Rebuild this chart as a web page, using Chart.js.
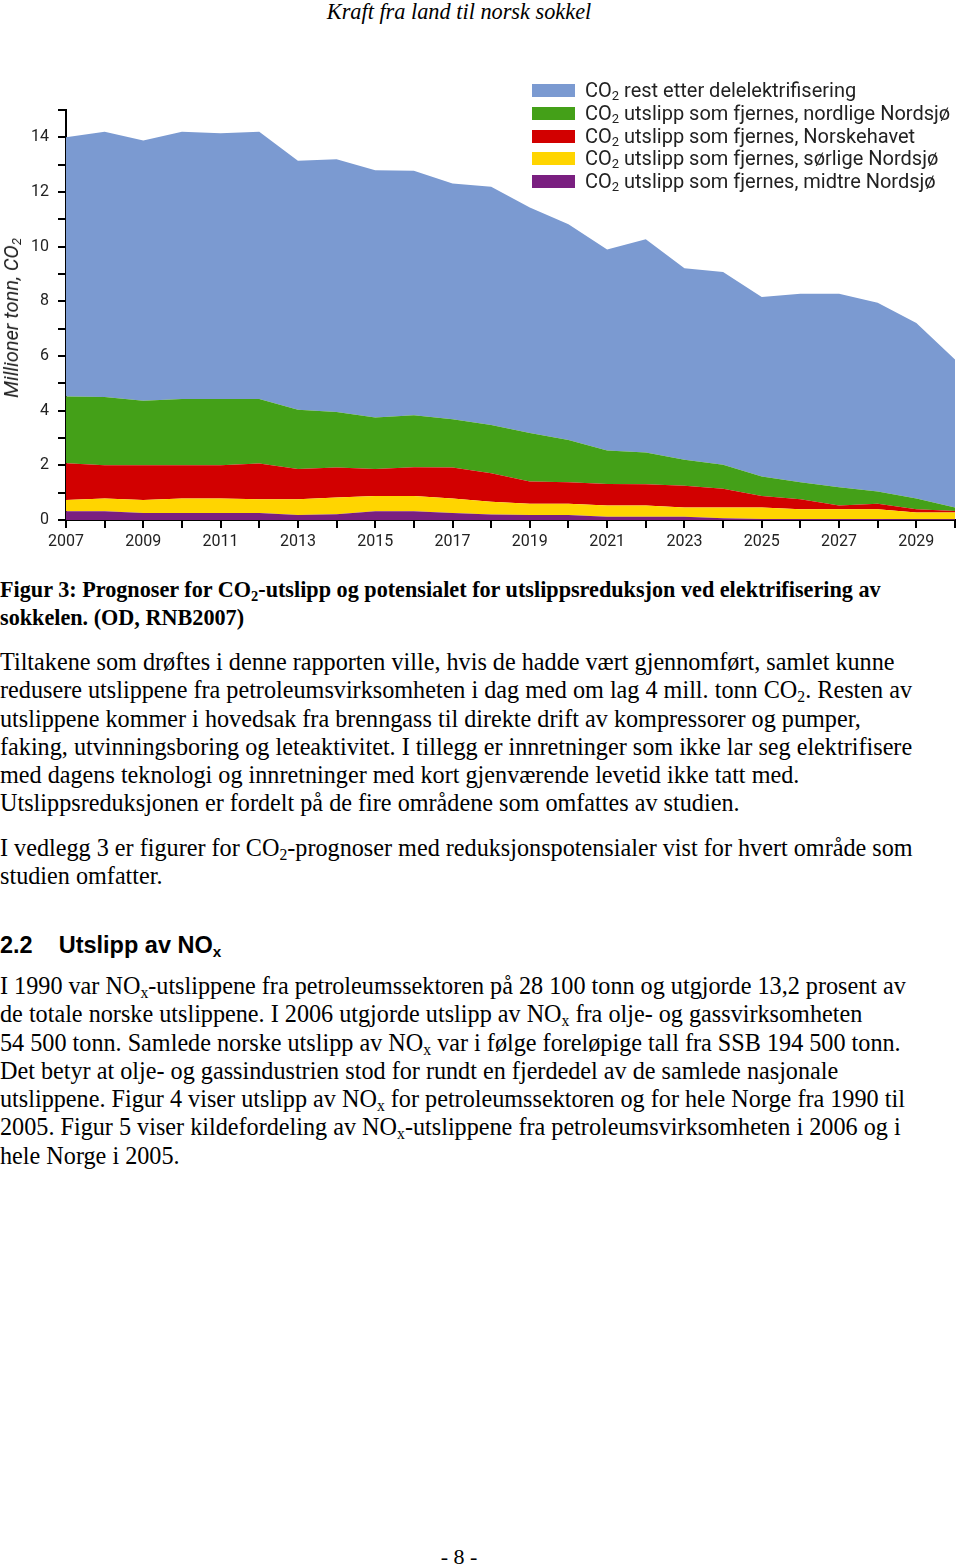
<!DOCTYPE html>
<html>
<head>
<meta charset="utf-8">
<script src="https://cdn.jsdelivr.net/npm/chart.js@4/dist/chart.umd.min.js"></script>
<style>
  html, body { margin: 0; padding: 0; background: #fff; }
  body { width: 960px; height: 1566px; position: relative; overflow: hidden; }
  .abs { position: absolute; }
  .serif { font-family: "Liberation Serif", "Times New Roman", serif; color: #000; white-space: nowrap; }
  .header { left: 0; width: 918px; top: 0; text-align: center; font-style: italic; font-size: 22.3px; line-height: 24px; }
  .caption { left: 0; top: 576px; font-weight: bold; font-size: 22.2px; line-height: 28.3px; }
  .body { font-size: 24.2px; line-height: 28.3px; left: 0; }
  sub { font-size: 65%; line-height: 0; vertical-align: -0.25em; }
  .heading { left: 0; top: 931px; font-family: "Liberation Sans", Arial, sans-serif; font-weight: bold; font-size: 23.5px; line-height: 28px; white-space: nowrap; }
  #chartBox { left: 0; top: 60px; width: 960px; height: 500px; }
  .legend { font-family: Roboto, "Open Sans", sans-serif; font-size: 20px; color: #222; }
  .legrow { position: absolute; left: 532px; height: 22px; }
  .sw { position: absolute; left: 0; top: 5px; width: 43px; height: 13px; }
  .lt { position: absolute; left: 53px; top: 0; line-height: 22px; white-space: nowrap; }
  .ytitle { left: 11px; top: 318px; transform: translate(-50%, -50%) rotate(-90deg); font-family: Roboto, "Open Sans", sans-serif; font-style: italic; font-size: 20px; color: #222; white-space: nowrap; }
</style>
</head>
<body>
<div class="abs serif header">Kraft fra land til norsk sokkel</div>

<div class="abs" id="chartBox"><canvas id="c"></canvas></div>
<div class="abs ytitle">Millioner tonn, CO<sub>2</sub></div>
<div class="abs legend" id="legend" style="left:0;top:0;width:960px;height:0;"></div>

<div class="abs serif caption">Figur 3: Prognoser for CO<sub>2</sub>-utslipp og potensialet for utslippsreduksjon ved elektrifisering av<br>sokkelen. (OD, RNB2007)</div>

<div class="abs serif body" style="top:648px;">Tiltakene som drøftes i denne rapporten ville, hvis de hadde vært gjennomført, samlet kunne<br>redusere utslippene fra petroleumsvirksomheten i dag med om lag 4 mill. tonn CO<sub>2</sub>. Resten av<br>utslippene kommer i hovedsak fra brenngass til direkte drift av kompressorer og pumper,<br>faking, utvinningsboring og leteaktivitet. I tillegg er innretninger som ikke lar seg elektrifisere<br>med dagens teknologi og innretninger med kort gjenværende levetid ikke tatt med.<br>Utslippsreduksjonen er fordelt på de fire områdene som omfattes av studien.</div>

<div class="abs serif body" style="top:834px;">I vedlegg 3 er figurer for CO<sub>2</sub>-prognoser med reduksjonspotensialer vist for hvert område som<br>studien omfatter.</div>

<div class="abs heading">2.2<span style="display:inline-block;width:26px"></span>Utslipp av NO<sub>x</sub></div>

<div class="abs serif body" style="top:972px;">I 1990 var NO<sub>x</sub>-utslippene fra petroleumssektoren på 28 100 tonn og utgjorde 13,2 prosent av<br>de totale norske utslippene. I 2006 utgjorde utslipp av NO<sub>x</sub> fra olje- og gassvirksomheten<br>54 500 tonn. Samlede norske utslipp av NO<sub>x</sub> var i følge foreløpige tall fra SSB 194 500 tonn.<br>Det betyr at olje- og gassindustrien stod for rundt en fjerdedel av de samlede nasjonale<br>utslippene. Figur 4 viser utslipp av NO<sub>x</sub> for petroleumssektoren og for hele Norge fra 1990 til<br>2005. Figur 5 viser kildefordeling av NO<sub>x</sub>-utslippene fra petroleumsvirksomheten i 2006 og i<br>hele Norge i 2005.</div>

<div class="abs serif" style="left:0;width:918px;top:1544px;text-align:center;font-size:22px;line-height:26px;">- 8 -</div>

<script>
// ---- Data ----
const years = ['2007','2008','2009','2010','2011','2012','2013','2014','2015','2016','2017','2018','2019','2020','2021','2022','2023','2024','2025','2026','2027','2028','2029','2030'];
const midtreNordsjo = [0.32,0.32,0.26,0.26,0.26,0.26,0.18,0.21,0.32,0.32,0.26,0.20,0.18,0.18,0.12,0.12,0.12,0.06,0.04,0.04,0.04,0.04,0.03,0.03];
const sorligeNordsjo = [0.41,0.47,0.47,0.53,0.53,0.50,0.58,0.61,0.56,0.56,0.53,0.47,0.41,0.41,0.41,0.41,0.34,0.40,0.42,0.35,0.35,0.35,0.24,0.24];
const norskehavet = [1.35,1.21,1.27,1.21,1.21,1.31,1.11,1.10,0.99,1.05,1.13,1.04,0.82,0.79,0.79,0.78,0.79,0.68,0.42,0.37,0.14,0.20,0.12,0.06];
const nordligeNordsjo = [2.44,2.50,2.36,2.43,2.43,2.36,2.16,2.03,1.88,1.90,1.77,1.77,1.77,1.55,1.22,1.16,0.95,0.88,0.71,0.62,0.67,0.45,0.40,0.13];
const restEtter = [9.48,9.70,9.52,9.77,9.72,9.77,9.11,9.25,9.05,8.95,8.62,8.71,8.25,7.89,7.36,7.80,7.01,7.05,6.57,6.90,7.08,6.91,6.42,5.41];
const yTickLabels = [0,2,4,6,8,10,12,14];
const seriesNames = [
  'utslipp som fjernes, midtre Nordsjø',
  'utslipp som fjernes, sørlige Nordsjø',
  'utslipp som fjernes, Norskehavet',
  'utslipp som fjernes, nordlige Nordsjø',
  'rest etter delelektrifisering'
];
const colors = ['#7a1f80','#ffd500','#d20000','#44a018','#7b9ad1'];
const seriesData = [midtreNordsjo, sorligeNordsjo, norskehavet, nordligeNordsjo, restEtter];

const datasets = seriesData.map((d, i) => ({
  label: 'CO₂ ' + seriesNames[i],
  data: d,
  backgroundColor: colors[i],
  borderColor: colors[i],
  borderWidth: 0,
  pointRadius: 0,
  tension: 0,
  fill: i === 0 ? 'origin' : '-1'
}));

const fontFam = 'Roboto, "Open Sans", sans-serif';
new Chart(document.getElementById('c'), {
  type: 'line',
  data: { labels: years, datasets },
  options: {
    responsive: true,
    maintainAspectRatio: false,
    animation: false,
    layout: { padding: { top: 50, right: 5, left: 0, bottom: 0 } },
    plugins: { legend: { display: false }, tooltip: { enabled: false } },
    scales: {
      x: {
        offset: false,
        grid: { display: true, drawOnChartArea: false, drawTicks: true, tickLength: 8, color: '#000', lineWidth: 2 },
        border: { display: true, color: '#000', width: 2 },
        ticks: {
          autoSkip: false, maxRotation: 0, minRotation: 0, padding: 4,
          color: '#222', font: { family: fontFam, size: 16 },
          callback: (v, i) => (i % 2 === 0 ? years[i] : '')
        },
        afterFit: s => { s.height = 40; }
      },
      y: {
        stacked: true,
        min: 0, max: 15,
        grid: { display: true, drawOnChartArea: false, drawTicks: true, tickLength: 8, color: '#000', lineWidth: 2 },
        border: { display: true, color: '#000', width: 2 },
        ticks: {
          stepSize: 1, padding: 9,
          color: '#222', font: { family: fontFam, size: 16 },
          callback: v => (yTickLabels.includes(v) ? String(v) : '')
        },
        afterFit: s => { s.width = 66; }
      }
    }
  }
});

// HTML legend (top series first)
const leg = document.getElementById('legend');
const rowTops = [79, 102, 125, 147, 170];
for (let k = 0; k < 5; k++) {
  const i = 4 - k;
  const row = document.createElement('div');
  row.className = 'legrow';
  row.style.top = rowTops[k] + 'px';
  row.innerHTML = '<div class="sw" style="background:' + colors[i] + '"></div><div class="lt">CO<sub>2</sub> ' + seriesNames[i] + '</div>';
  leg.appendChild(row);
}
</script>
</body>
</html>
